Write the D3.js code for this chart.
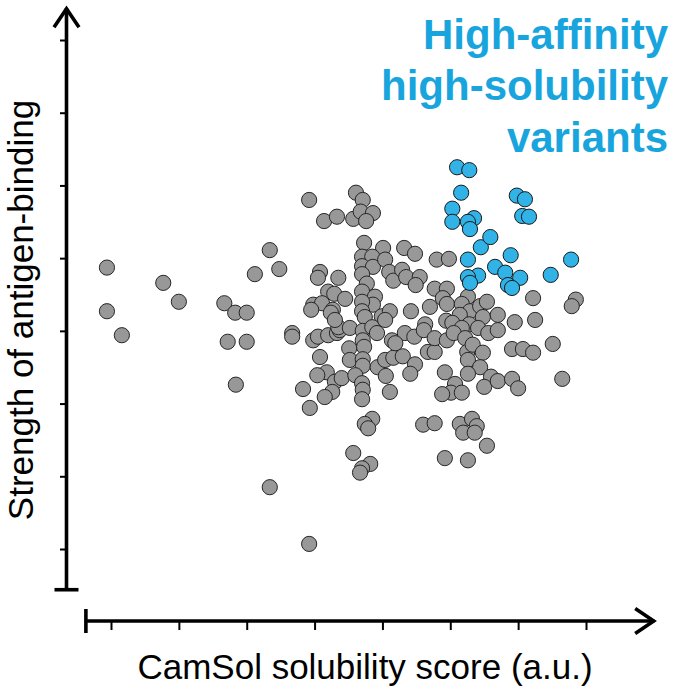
<!DOCTYPE html>
<html>
<head>
<meta charset="utf-8">
<script src="https://cdn.jsdelivr.net/npm/d3@7/dist/d3.min.js"></script>
<style>
html,body{margin:0;padding:0;background:#fff;}
svg{display:block;}
</style>
</head>
<body>
<script>
// ---- data (arbitrary units; one unit = one tick interval) ----
const xTicks = [0, 1, 2, 3, 4, 5, 6, 7];
const yTicks = [0, 1, 2, 3, 4, 5, 6, 7];
const xAxisExtent = [-0.37, 8.02];
const yAxisExtent = [-0.56, 7.45];

const greyPoints = [
[-0.06,3.87],[-0.06,3.27],[0.16,2.94],[0.77,3.66],[1.00,3.40],[1.67,3.38],[1.83,3.25],[2.00,3.25],[2.12,3.78],[2.34,4.11],[2.48,3.85],[1.72,2.85],[2.00,2.85],[1.84,2.26],[2.34,0.85],[2.92,0.07],[2.67,2.97],[2.67,2.92],[2.83,2.20],
[2.92,4.80],[3.14,4.51],[3.33,4.57],[3.08,3.81],[3.05,3.73],[3.35,3.73],[3.20,3.54],[3.29,3.51],[2.98,3.36],[3.11,3.38],[2.95,3.29],[3.27,3.29],[3.24,3.25],[2.98,2.87],[3.05,2.92],[3.20,2.94],[3.33,2.97],[3.37,3.01],[3.35,3.05],[3.08,2.64],[3.18,2.43],[3.04,2.39],[3.30,2.30],[3.26,2.16],[3.15,2.09],[2.93,1.94],[3.45,3.44],[3.40,2.35],
[3.61,4.90],[3.71,4.80],[3.57,4.54],[3.68,4.64],[3.86,4.62],[3.76,4.51],[3.73,4.21],[4.01,4.14],[3.70,4.02],[3.85,4.02],[3.70,3.89],[3.86,3.88],[3.70,3.78],[3.77,3.65],[3.70,3.54],[3.89,3.47],[3.86,3.36],[3.70,3.40],[3.70,3.27],[3.74,3.19],[4.04,3.98],[4.10,3.81],[4.16,3.69],[3.99,3.20],[4.11,3.27],[3.30,3.15],[3.52,3.04],[3.71,3.00],[3.85,3.05],[3.92,2.97],[3.71,2.87],[4.14,2.87],[3.51,2.76],[3.73,2.78],[3.52,2.60],[3.71,2.61],[3.71,2.52],[3.93,2.50],[4.04,2.60],[4.16,2.63],[3.60,2.39],[4.05,2.38],[3.70,2.28],[3.71,2.19],[3.70,2.06],[4.11,2.16],[4.30,2.65],[4.48,2.54],[4.41,2.41],
[4.32,4.14],[4.48,4.06],[4.80,3.98],[4.98,3.99],[4.29,3.84],[4.35,3.74],[4.55,3.74],[4.49,3.63],[4.77,3.58],[4.95,3.58],[4.89,3.45],[4.95,3.37],[4.70,3.33],[4.42,3.27],[4.04,3.15],[5.26,3.47],[5.17,3.37],[5.29,3.27],[5.14,3.22],[5.44,3.34],[5.54,3.40],[5.48,3.19],[4.94,3.14],[5.03,3.11],[4.63,3.09],
[4.33,2.97],[4.47,2.92],[4.61,3.01],[4.19,2.83],[4.67,2.71],[4.77,2.71],[4.77,2.90],[5.28,3.09],[5.17,3.04],[5.41,3.04],[4.95,2.87],[5.05,2.97],[5.22,2.90],[5.25,2.71],[5.33,2.81],[5.26,2.60],[5.48,2.70],[5.44,2.50],[4.92,2.43],[5.26,2.41],[5.07,2.27],[5.01,2.15],[5.17,2.15],[5.60,2.37],[5.50,2.23],[4.88,2.13],[5.56,2.97],[5.70,3.01],[5.70,3.22],[5.70,2.31],[5.91,2.34],[6.00,2.21],[5.91,2.75],[6.07,2.75],[6.22,2.70],[6.51,2.82],[6.65,2.34],[6.22,3.45],[6.85,3.43],[6.79,3.34],[5.95,3.12],[6.25,3.15],
[3.85,1.79],[3.74,1.72],[3.79,1.66],[4.60,1.71],[4.77,1.73],[5.14,1.72],[5.32,1.79],[5.39,1.69],[5.19,1.60],[5.36,1.60],[5.54,1.42],[4.92,1.25],[5.26,1.22],[3.57,1.32],[3.82,1.17],[3.70,1.11],[3.67,1.05]
];

const bluePoints = [
[5.10,5.25],[5.28,5.21],[5.16,4.90],[5.03,4.68],[5.03,4.50],[5.35,4.55],[5.26,4.50],[5.29,4.40],[5.45,4.15],[5.59,4.29],[5.98,4.86],[6.10,4.81],[6.06,4.58],[6.16,4.57],[5.89,4.04],[6.78,3.98],[6.48,3.77],[5.26,3.98],[5.66,3.88],[5.81,3.80],[6.03,3.73],[5.85,3.63],[5.91,3.59],[5.41,3.76],[5.26,3.74],[5.29,3.66]
];

const titleLines = ["High-affinity", "high-solubility", "variants"];
const xLabel = "CamSol solubility score (a.u.)";
const yLabel = "Strength of antigen-binding";

// ---- drawing ----
const W = 675, H = 692;
const FONT = "'Liberation Sans', Arial, Helvetica, sans-serif";
const svg = d3.select("body").append("svg").attr("width", W).attr("height", H);

const x = d3.scaleLinear().domain([0, 7]).range([111, 586]);
const y = d3.scaleLinear().domain([0, 7]).range([549, 40]);

const axisColor = "#000";
const axisW = 3.6;

// Y axis line + serif + arrow
const yAxisX = 66.5;
svg.append("line")
  .attr("x1", yAxisX).attr("x2", yAxisX)
  .attr("y1", y(yAxisExtent[0])).attr("y2", y(yAxisExtent[1]) + 1)
  .attr("stroke", axisColor).attr("stroke-width", axisW);
svg.append("line")
  .attr("x1", yAxisX - 12).attr("x2", yAxisX + 12)
  .attr("y1", y(yAxisExtent[0])).attr("y2", y(yAxisExtent[0]))
  .attr("stroke", axisColor).attr("stroke-width", axisW);
svg.append("path")
  .attr("d", `M${yAxisX - 12.5},${y(yAxisExtent[1]) + 20} L${yAxisX},${y(yAxisExtent[1]) + 1.5} L${yAxisX + 12.5},${y(yAxisExtent[1]) + 20}`)
  .attr("fill", "none").attr("stroke", axisColor).attr("stroke-width", axisW)
  .attr("stroke-linejoin", "miter");

const yAxisG = svg.append("g").attr("transform", `translate(${yAxisX},0)`)
  .call(d3.axisLeft(y).tickValues(yTicks).tickSize(6.5).tickFormat(""));
yAxisG.select(".domain").remove();
yAxisG.selectAll(".tick line").attr("stroke", axisColor).attr("stroke-width", 2);

// X axis line + serif + arrow
const xAxisY = 621;
svg.append("line")
  .attr("x1", x(xAxisExtent[0])).attr("x2", x(xAxisExtent[1]) - 1)
  .attr("y1", xAxisY).attr("y2", xAxisY)
  .attr("stroke", axisColor).attr("stroke-width", axisW);
svg.append("line")
  .attr("x1", x(xAxisExtent[0])).attr("x2", x(xAxisExtent[0]))
  .attr("y1", xAxisY - 12).attr("y2", xAxisY + 12)
  .attr("stroke", axisColor).attr("stroke-width", axisW);
svg.append("path")
  .attr("d", `M${x(xAxisExtent[1]) - 20},${xAxisY - 12.5} L${x(xAxisExtent[1]) - 1.5},${xAxisY} L${x(xAxisExtent[1]) - 20},${xAxisY + 12.5}`)
  .attr("fill", "none").attr("stroke", axisColor).attr("stroke-width", axisW);

const xAxisG = svg.append("g").attr("transform", `translate(0,${xAxisY})`)
  .call(d3.axisBottom(x).tickValues(xTicks).tickSize(9).tickFormat(""));
xAxisG.select(".domain").remove();
xAxisG.selectAll(".tick line").attr("stroke", axisColor).attr("stroke-width", 2);

// points
const R = 7.6;
svg.append("g").selectAll("circle").data(greyPoints).join("circle")
  .attr("cx", d => x(d[0])).attr("cy", d => y(d[1])).attr("r", R)
  .attr("fill", "#989898").attr("stroke", "#262626").attr("stroke-width", 1);
svg.append("g").selectAll("circle").data(bluePoints).join("circle")
  .attr("cx", d => x(d[0])).attr("cy", d => y(d[1])).attr("r", R)
  .attr("fill", "#31b3e7").attr("stroke", "#1a1a1a").attr("stroke-width", 1);

// title (blue annotation)
svg.append("g").selectAll("text").data(titleLines).join("text")
  .attr("x", 668).attr("y", (d, i) => 49 + i * 51.3)
  .attr("text-anchor", "end")
  .attr("font-family", FONT).attr("font-weight", "bold").attr("font-size", 42)
  .attr("fill", "#18a5de")
  .text(d => d);

// axis labels
svg.append("text")
  .attr("x", 365).attr("y", 679)
  .attr("text-anchor", "middle")
  .attr("font-family", FONT).attr("font-size", 35).attr("fill", "#000")
  .text(xLabel);
svg.append("text")
  .attr("transform", "translate(33,310) rotate(-90)")
  .attr("text-anchor", "middle")
  .attr("font-family", FONT).attr("font-size", 35).attr("fill", "#000")
  .text(yLabel);
</script>
</body>
</html>
